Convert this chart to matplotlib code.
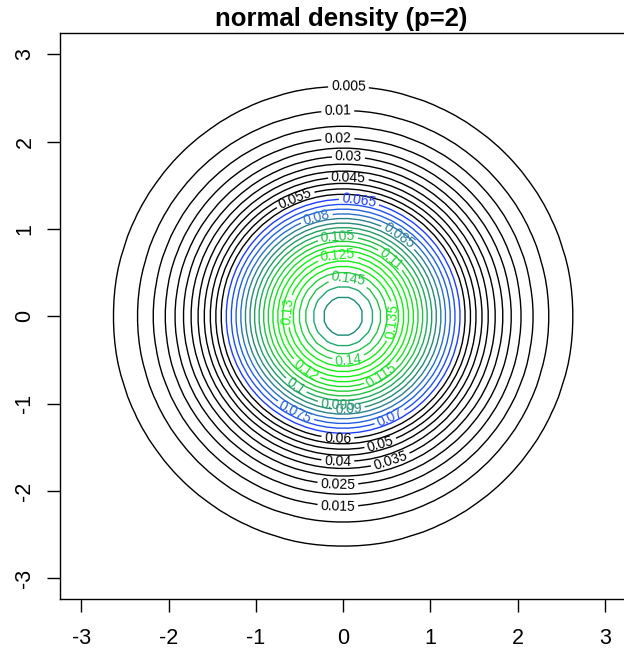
import numpy as np
import matplotlib
matplotlib.use("Agg")
import matplotlib.pyplot as plt

plt.rcParams['font.family'] = ['Liberation Sans', 'DejaVu Sans']

# grid for the bivariate standard normal density (p = 2)
grid_x = np.linspace(-3, 3, 50)
grid_y = np.linspace(-3, 3, 50)

# contour levels
levels = [0.005, 0.01, 0.015, 0.02, 0.025, 0.03, 0.035, 0.04, 0.045, 0.05,
          0.055, 0.06, 0.065, 0.07, 0.075, 0.08, 0.085, 0.09, 0.095, 0.1,
          0.105, 0.11, 0.115, 0.12, 0.125, 0.13, 0.135, 0.14, 0.145, 0.15,
          0.155]

level_colors = (['#000000'] * 12 +
                ['#1e3cff', '#2050f0', '#2060e0', '#2a70c4', '#2a8090',
                 '#28887a', '#229c64', '#22a860', '#22bf44', '#20cf34',
                 '#1ade26', '#12ee14', '#12f012', '#12f012', '#12ee14',
                 '#22d040', '#26c04a', '#20a870', '#1a8a7a'])

# label anchor points (near where each contour is labelled)
label_levels = [0.005, 0.01, 0.02, 0.03, 0.045, 0.055, 0.065, 0.08, 0.085,
                0.105, 0.11, 0.125, 0.145, 0.13, 0.135, 0.14, 0.12, 0.115,
                0.1, 0.095, 0.09, 0.075, 0.07, 0.06, 0.05, 0.04, 0.035,
                0.025, 0.015]
label_pos = [(0.03, 2.61), (-0.02, 2.34), (-0.02, 2.02), (0.0, 1.80),
             (0.03, 1.56), (-0.49, 1.35), (0.15, 1.30), (-0.33, 1.10),
             (0.6, 0.91), (-0.03, 0.85), (0.52, 0.6), (-0.03, 0.62),
             (0.02, 0.28), (-0.54, 0.0), (0.52, -0.02), (0.0, -0.44),
             (-0.42, -0.65), (0.45, -0.61), (-0.52, -0.84), (-0.03, -0.96),
             (0.0, -1.05), (-0.6, -1.10), (0.52, -1.17), (-0.11, -1.37),
             (0.46, -1.43), (-0.11, -1.65), (0.52, -1.66), (-0.03, -1.90),
             (-0.03, -2.16)]

ticks = [-3, -2, -1, 0, 1, 2, 3]
title = "normal density (p=2)"

X, Y = np.meshgrid(grid_x, grid_y)
Z = np.exp(-(X**2 + Y**2) / 2) / (2 * np.pi)

W, H = 624, 649
fig = plt.figure(figsize=(W / 100, H / 100), dpi=100)
left, right, top, bottom = 60.3, 626.0, 33.3, 599.3
ax = fig.add_axes([left / W, 1 - bottom / H, (right - left) / W, (bottom - top) / H])

cs = ax.contour(X, Y, Z, levels=levels, colors=level_colors, linewidths=1.0)
ax.set_xlim(-3.24, 3.24)
ax.set_ylim(-3.24, 3.24)

# snap each label anchor onto its own contour line
anchors = []
for lv, pos in zip(label_levels, label_pos):
    idx = levels.index(lv)
    segs = [s for s in cs.allsegs[idx] if len(s)]
    verts = np.concatenate(segs)
    d = np.hypot(verts[:, 0] - pos[0], verts[:, 1] - pos[1])
    anchors.append(tuple(verts[np.argmin(d)]))

for a in anchors:
    ax.clabel(cs, manual=[a], inline=True, inline_spacing=3,
              fontsize=10, fmt=lambda v: f"{v:g}")

ax.set_xticks(ticks)
ax.set_yticks(ticks)
ax.set_xticklabels([str(t) for t in ticks])
ax.set_yticklabels([str(t) for t in ticks], rotation=90, va='center')
ax.tick_params(axis='both', direction='out', length=9.4, width=1.0,
               labelsize=15.5, colors='black')
ax.tick_params(axis='x', pad=11.5)
ax.tick_params(axis='y', pad=8.5)
for s in ax.spines.values():
    s.set_linewidth(1.0)

fig.text(341 / W, 1 - 26 / H, title, ha='center', va='baseline',
         fontsize=18.5, fontweight='bold')

fig.savefig("out.png", dpi=100)
